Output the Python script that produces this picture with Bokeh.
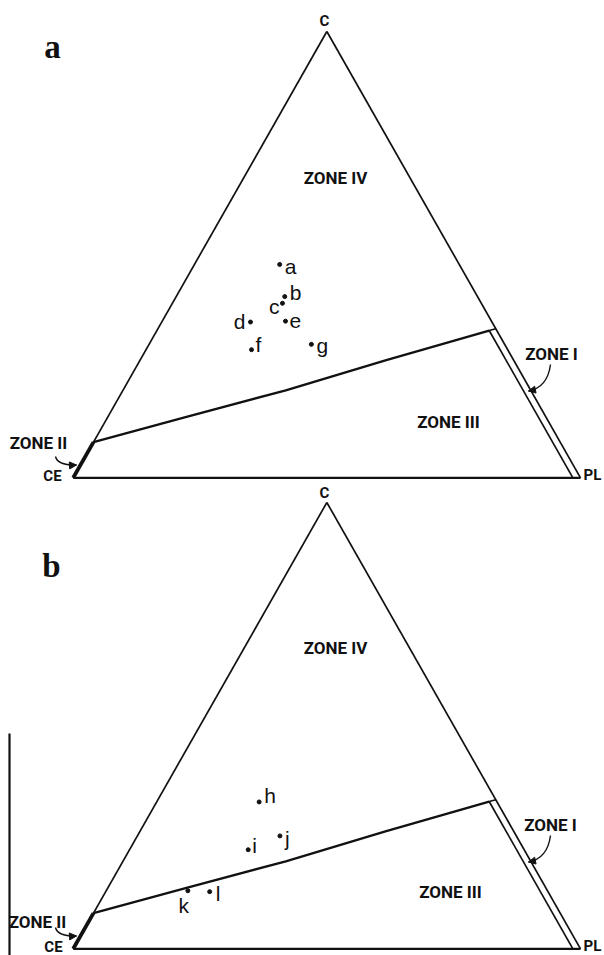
import numpy as np
from bokeh.plotting import figure
from bokeh.layouts import column
from bokeh.models import Range1d, Arrow, NormalHead
from bokeh.core.properties import value
from bokeh.embed import file_html
from bokeh.resources import INLINE

# ---------------- data: ternary compositions (fractions of C, CE, PL) ----------------
labels_a = ["a", "b", "c", "d", "e", "f", "g"]
c_a  = [0.478, 0.406, 0.391, 0.349, 0.351, 0.287, 0.299]
ce_a = [0.354, 0.380, 0.392, 0.476, 0.406, 0.505, 0.381]
pl_a = [0.168, 0.214, 0.217, 0.175, 0.243, 0.208, 0.320]

labels_b = ["h", "i", "j", "k", "l"]
c_b  = [0.329, 0.222, 0.253, 0.130, 0.128]
ce_b = [0.469, 0.544, 0.466, 0.709, 0.667]
pl_b = [0.202, 0.234, 0.281, 0.161, 0.205]

# zone III / zone IV boundary (C, PL) ; CE = 1 - C - PL
bound_c  = [0.080, 0.136, 0.196, 0.263, 0.330]
bound_pl = [0.000, 0.1535, 0.321, 0.484, 0.655]
zone1_ce = 0.015       # zone I strip: CE below this value
zone2_c = 0.080        # zone II strip along CE-C edge up to this C

zone_names = ["ZONE IV", "ZONE III", "ZONE I", "ZONE II"]
vertex_names = ["C", "CE", "PL"]

# label offsets (pixels: dx right, dy down) and alignment per point
off_a = {"a": (5, 2, "left"), "b": (5, -4, "left"), "c": (-3, 3, "right"),
         "d": (-5, -1, "right"), "e": (4, 0, "left"), "f": (4, -5, "left"),
         "g": (5, 1, "left")}
off_b = {"h": (5, -6, "left"), "i": (4, -4, "left"), "j": (5, 3, "left"),
         "k": (-4, 15, "center"), "l": (6, 2, "left")}

INK = "#111111"
W = 604
M = 0
X_CE, X_PL = 72.7, 580.0   # page pixel anchors of the base vertices
SX = X_PL - X_CE
SY = 446.3


def tern(c, pl):
    c = np.asarray(c, dtype=float)
    pl = np.asarray(pl, dtype=float)
    return pl + 0.5 * c, c


def make_fig(top, bottom, base):
    x0 = (M - X_CE) / SX
    x1 = (M + W - X_CE) / SX
    y_top = (base - top) / SY
    y_bot = (base - bottom) / SY
    p = figure(width=W, height=int(bottom - top), x_range=Range1d(x0, x1),
               y_range=Range1d(y_bot, y_top), output_backend="svg",
               toolbar_location=None, min_border=0, title=None,
               x_axis_location=None, y_axis_location=None)
    p.grid.visible = False
    p.outline_line_color = None
    p.background_fill_color = "white"
    p.border_fill_color = "white"
    return p


def draw_panel(p, base, labels, C, CE, PL, offs, letter, letter_px,
               zone_px, vert_px, arrow1_px, arrow2_px):
    def pd(px, py):
        return (px - X_CE) / SX, (base - py) / SY

    # triangle edges
    ax, ay = tern([1.0], [0.0])
    bx, by = tern([0.0], [1.0])
    cx, cy = tern([0.0], [0.0])
    p.line([cx[0], ax[0]], [cy[0], ay[0]], line_color=INK, line_width=1.7)
    p.line([ax[0], bx[0]], [ay[0], by[0]], line_color=INK, line_width=1.7)
    p.line([cx[0], bx[0]], [cy[0], by[0]], line_color=INK, line_width=2.2)

    # zone III/IV boundary
    bxs, bys = tern(bound_c, bound_pl)
    p.line(bxs, bys, line_color=INK, line_width=2.3)

    # zone I strip (constant CE line) and cap
    c_top = bound_c[-1]
    zx, zy = tern([c_top, 0.0], [1 - zone1_ce - c_top, 1 - zone1_ce])
    p.line(zx, zy, line_color=INK, line_width=1.7)
    kx, ky = tern([c_top, c_top + 0.004], [1 - zone1_ce - c_top, 1 - c_top - 0.004])
    p.line(kx, ky, line_color=INK, line_width=1.7)

    # zone II strip
    qx, qy = tern([0.0, zone2_c], [0.0, 0.0])
    p.line(qx, qy, line_color=INK, line_width=3.8)

    # data points
    px_, py_ = tern(C, PL)
    p.scatter(px_, py_, size=4, color=INK)
    for lab, x, y in zip(labels, px_, py_):
        dx, dy, al = offs[lab]
        p.text([x + dx / SX], [y - dy / SY], text=[lab],
               text_font=value("Liberation Sans"), text_font_size="21px",
               text_align=al, text_baseline="middle", text_color=INK)

    # zone labels
    for name, (zx_, zy_) in zip(zone_names, zone_px):
        x, y = pd(zx_, zy_)
        p.text([x], [y], text=[name], text_font=value("Roboto"),
               text_font_style="bold", text_font_size="17px",
               text_align="center", text_baseline="middle", text_color=INK)

    # vertex labels
    for name, (vx_, vy_) in zip(vertex_names, vert_px):
        x, y = pd(vx_, vy_)
        p.text([x], [y], text=[name], text_font=value("Roboto"),
               text_font_style="bold", text_font_size="15px",
               text_align="center", text_baseline="middle", text_color=INK)

    # panel letter
    x, y = pd(*letter_px)
    p.text([x], [y], text=[letter], text_font=value("Liberation Serif"),
           text_font_style="bold", text_font_size="33px",
           text_align="center", text_baseline="middle", text_color=INK)

    # curved arrows
    for (s, c, e, h) in (arrow1_px, arrow2_px):
        sx_, sy_ = pd(*s)
        cx_, cy_ = pd(*c)
        ex_, ey_ = pd(*e)
        hx_, hy_ = pd(*h)
        p.quadratic(x0=[sx_], y0=[sy_], x1=[ex_], y1=[ey_], cx=[cx_], cy=[cy_],
                    line_color=INK, line_width=1.4)
        p.add_layout(Arrow(end=NormalHead(size=7, fill_color=INK, line_color=INK),
                           x_start=hx_, y_start=hy_, x_end=ex_, y_end=ey_,
                           line_color=INK, line_width=1.4))


# ---------------- panel a ----------------
BASE_A = 477.3
pa = make_fig(M, 485, BASE_A)
draw_panel(pa, BASE_A, labels_a, c_a, ce_a, pl_a, off_a, "a", (52, 46),
           [(335, 177), (448, 421), (551, 353), (38, 442)],
           [(324, 20), (52, 475), (592, 474)],
           ((550, 364), (547, 387), (528, 390.5), (533, 389.5)),
           ((55, 456), (57, 465), (76, 464.5), (71, 464.8)))

# ---------------- panel b ----------------
BASE_B = 948.3
pb = make_fig(485, 955, BASE_B)
draw_panel(pb, BASE_B, labels_b, c_b, ce_b, pl_b, off_b, "b", (51, 565),
           [(335, 647), (450, 891), (550, 824), (37, 921)],
           [(324, 492), (53, 946), (592, 945)],
           ((550, 835), (547, 858), (528, 861.5), (533, 860.5)),
           ((55, 927), (57, 936), (76, 935.5), (71, 935.8)))

# scan edge line at left of panel b
def _pdb(px, py):
    return (px - X_CE) / SX, (BASE_B - py) / SY
lx0, ly0 = _pdb(9, 733)
lx1, ly1 = _pdb(9, 960)
pb.line([lx0, lx1], [ly0, ly1], line_color=INK, line_width=2.2)

layout = column(pa, pb, spacing=0)
open("out.html", "w").write(file_html(layout, INLINE))
